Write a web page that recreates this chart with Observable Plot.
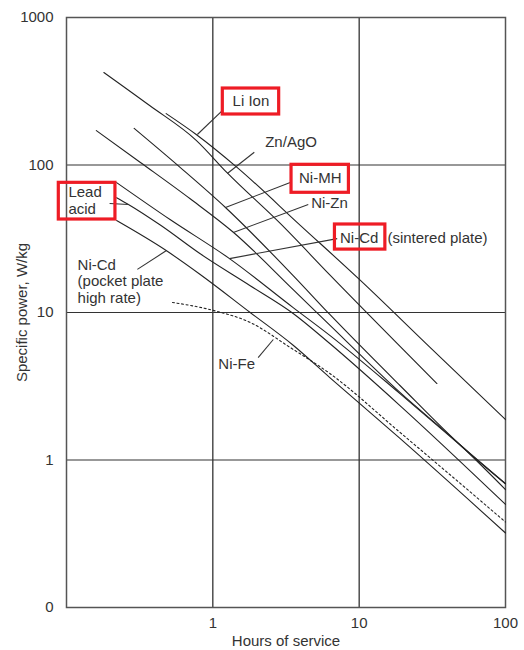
<!DOCTYPE html>
<html>
<head>
<meta charset="utf-8">
<script src="https://cdn.jsdelivr.net/npm/d3@7"></script>
<script src="https://cdn.jsdelivr.net/npm/@observablehq/plot@0.6"></script>
<style>
  html, body { margin: 0; padding: 0; background: #fff; }
  #chart svg { display: block; }
</style>
</head>
<body>
<div id="chart"></div>
<script>
// Specific power (W/kg) against hours of service, per battery system (log–log)
const znAgOHours   = [0.18, 0.37, 0.77, 1.26, 2.9, 6.3, 34];
const znAgOPower   = [424, 253, 147, 88, 40, 18, 3.3];

const liIonHours   = [0.48, 0.77, 1.47, 3.96, 10.2, 30.5, 100];
const liIonPower   = [223, 161, 96, 39, 16.5, 5.8, 1.88];

const niMHHours    = [0.29, 0.60, 1.22, 3.54, 6.3, 19, 51, 100];
const niMHPower    = [177, 96, 51.5, 17.8, 9.7, 3.2, 1.22, 0.69];

const niZnHours    = [0.16, 0.32, 0.70, 1.38, 3.54, 6.3, 19, 51, 100];
const niZnPower    = [171, 104, 59, 35, 14.3, 8.2, 2.87, 1.22, 0.63];

const niCdSintHours = [0.22, 0.51, 1.30, 3.54, 6.3, 19, 51, 100];
const niCdSintPower = [76, 42.7, 23.2, 10.8, 7.0, 2.82, 1.22, 0.69];

const leadAcidHours = [0.22, 0.265, 0.44, 0.82, 1.8, 3.54, 6.3, 19, 100];
const leadAcidPower = [60, 54, 39, 25, 15.2, 9.85, 6.16, 2.34, 0.50];

const niCdPocketHours = [0.22, 0.48, 0.82, 1.8, 3.54, 6.3, 19, 100];
const niCdPocketPower = [42, 26.3, 18.1, 10, 6.0, 3.62, 1.4, 0.32];

const niFeHours    = [0.53, 1.02, 1.8, 3.38, 6.3, 19, 100];
const niFePower    = [11.7, 10.3, 8.56, 5.79, 3.86, 1.54, 0.38];

const xTicks = [1, 10, 100];
const yTicks = [0.1, 1, 10, 100, 1000];
const yTickLabels = ["0", "1", "10", "100", "1000"];

const toRows = (name, hours, power) => hours.map((h, i) => ({series: name, hours: h, power: power[i]}));

const solidRows = [
  ...toRows("Zn/AgO", znAgOHours, znAgOPower),
  ...toRows("Li Ion", liIonHours, liIonPower),
  ...toRows("Ni-MH", niMHHours, niMHPower),
  ...toRows("Ni-Zn", niZnHours, niZnPower),
  ...toRows("Ni-Cd sintered", niCdSintHours, niCdSintPower),
  ...toRows("Lead acid", leadAcidHours, leadAcidPower),
  ...toRows("Ni-Cd pocket", niCdPocketHours, niCdPocketPower)
];
const dottedRows = toRows("Ni-Fe", niFeHours, niFePower);

// Labels centred on their anchor point (data units)
const centredLabels = [
  {text: "Li Ion", x: 1.82, y: 269},
  {text: "Ni-MH", x: 5.42, y: 81},
  {text: "Ni-Cd", x: 10.0, y: 31.7}
];
// Labels that start at their anchor point (data units)
const leftLabels = [
  {text: "Zn/AgO", x: 2.28, y: 142},
  {text: "Ni-Zn", x: 4.70, y: 54.8},
  {text: "(sintered plate)", x: 15.6, y: 31.7},
  {text: "Lead", x: 0.103, y: 65.8},
  {text: "acid", x: 0.103, y: 50.2},
  {text: "Ni-Cd", x: 0.119, y: 20.8},
  {text: "(pocket plate", x: 0.119, y: 16.2},
  {text: "high rate)", x: 0.119, y: 12.6},
  {text: "Ni-Fe", x: 1.09, y: 4.44}
];

// Leader lines from labels to their curves
const leaders = [
  {x1: 1.16, y1: 234, x2: 0.784, y2: 161},
  {x1: 1.92, y1: 122, x2: 1.256, y2: 87.6},
  {x1: 3.38, y1: 76.1, x2: 1.22, y2: 51.5},
  {x1: 4.49, y1: 54.0, x2: 1.38, y2: 34.9},
  {x1: 7.08, y1: 31.7, x2: 1.30, y2: 23.2},
  {x1: 0.197, y1: 54.8, x2: 0.265, y2: 54.0},
  {x1: 0.305, y1: 19.6, x2: 0.482, y2: 26.3},
  {x1: 2.04, y1: 4.95, x2: 2.59, y2: 6.56}
];

// Highlight boxes around selected labels
const boxes = [
  {x1: 1.17, x2: 2.84, y1: 220, y2: 330},
  {x1: 3.45, x2: 8.51, y1: 64.8, y2: 100.3},
  {x1: 0.0886, x2: 0.216, y1: 42.7, y2: 75.7},
  {x1: 6.83, x2: 15.1, y1: 26.7, y2: 39.5}
];

const ink = "#222";
const fs = 15;
const chart = Plot.plot({
  width: 524,
  height: 650,
  marginLeft: 66,
  marginRight: 19,
  marginTop: 17,
  marginBottom: 43,
  style: {fontFamily: "'Liberation Sans', Arial, Helvetica, sans-serif", fontSize: `${fs}px`, color: "#333", background: "#fff"},
  x: {type: "log", domain: [0.1, 100]},
  y: {type: "log", domain: [0.1, 1000]},
  marks: [
    Plot.ruleX([1, 10], {stroke: ink, strokeWidth: 1.2}),
    Plot.ruleY([1, 10, 100], {stroke: "#333", strokeWidth: 1.2}),
    Plot.frame({stroke: "#555", strokeWidth: 1.5}),
    Plot.line(solidRows, {x: "hours", y: "power", z: "series", curve: "monotone-x", stroke: ink, strokeWidth: 1.1}),
    Plot.line(dottedRows, {x: "hours", y: "power", curve: "monotone-x", stroke: ink, strokeWidth: 1.1, strokeDasharray: "2,2.6"}),
    Plot.link(leaders, {x1: "x1", y1: "y1", x2: "x2", y2: "y2", stroke: "#333", strokeWidth: 1.1}),
    Plot.rect(boxes, {x1: "x1", x2: "x2", y1: "y1", y2: "y2", fill: "none", stroke: "#ee1c25", strokeWidth: 3.2}),
    Plot.text(centredLabels, {x: "x", y: "y", text: "text", textAnchor: "middle", fill: "#333", fontSize: fs}),
    Plot.text(leftLabels, {x: "x", y: "y", text: "text", textAnchor: "start", fill: "#333", fontSize: fs}),
    Plot.axisX({ticks: xTicks, tickSize: 0, tickPadding: 10, label: "Hours of service", labelAnchor: "center", labelOffset: 38, labelArrow: "none", fontSize: fs}),
    Plot.axisY({ticks: yTicks, tickSize: 0, tickPadding: 13, tickFormat: d => yTickLabels[yTicks.indexOf(d)], label: "Specific power, W/kg", labelAnchor: "center", labelOffset: 50, labelArrow: "none", fontSize: fs})
  ]
});
document.getElementById("chart").appendChild(chart);
</script>
</body>
</html>
